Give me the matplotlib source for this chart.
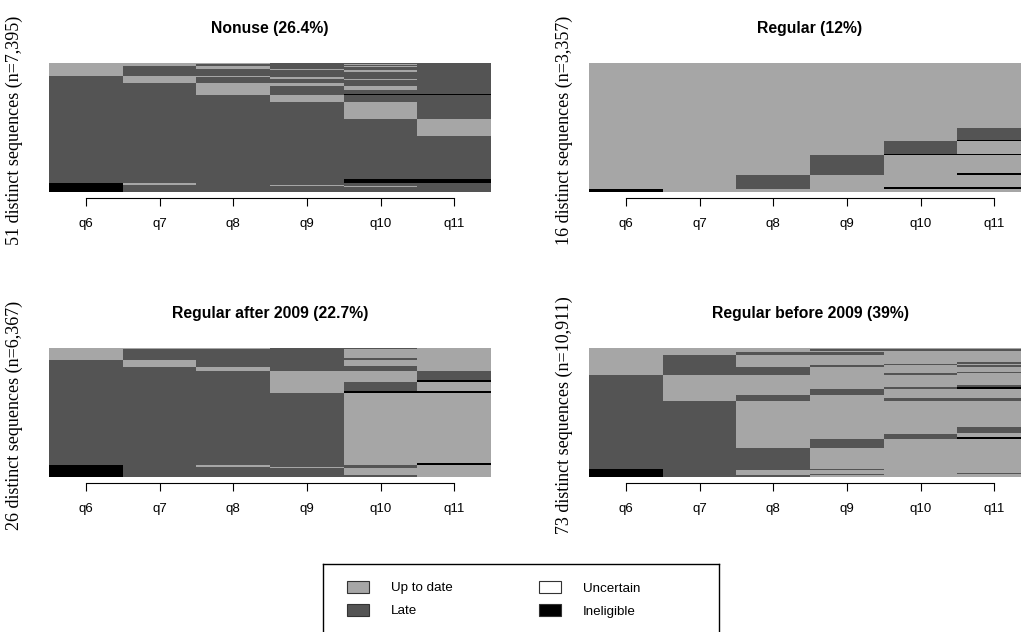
import matplotlib
matplotlib.use("Agg")
import matplotlib.pyplot as plt
from matplotlib.patches import Rectangle

plt.rcParams['font.family'] = ['Liberation Sans', 'DejaVu Sans']

# states
state_codes = ['U', 'L', 'X', 'I']
state_labels = ['Up to date', 'Late', 'Uncertain', 'Ineligible']
state_colors = {'U': '#a6a6a6', 'L': '#545454', 'X': '#ffffff', 'I': '#000000'}

periods = ['q6', 'q7', 'q8', 'q9', 'q10', 'q11']

# sequences listed top to bottom, weights = relative row heights
nonuse_seqs = ['UUULLL', 'UULLUL', 'UULLLL', 'ULULUL', 'ULULLL', 'ULLULL', 'ULLLUL',
               'ULLLLL', 'LUULLL', 'LULULL', 'LULLUL', 'LULLLL', 'LLUULL', 'LLULUL',
               'LLULLL', 'LLULII', 'LLLULL', 'LLLLUL', 'LLLLLU', 'LLLLLL', 'LLLLII',
               'IULLLL', 'ILLULL', 'ILLLUL', 'ILLLLL']
nonuse_w = [3, 2, 5, 3, 4, 3, 7, 12, 4, 4, 5, 7, 11, 11, 11, 4, 19, 52, 50, 129, 13,
            4, 3, 4, 15]

regular_seqs = ['UUUUUU', 'UUUUUL', 'UUUUUI', 'UUUULU', 'UUUUII', 'UUULUU', 'UUULUI',
                'UULUUU', 'UULUII', 'IUUUUU']
regular_w = [193, 36, 4, 38, 4, 54, 6, 36, 4, 10]

after_seqs = ['UUULLU', 'ULLLUU', 'ULLLLU', 'LULLUU', 'LULLLU', 'LLULLU', 'LLLUUL',
              'LLLUUI', 'LLLULU', 'LLLUII', 'LLLLUU', 'LLLLUI', 'ILULLU', 'ILLULU',
              'ILLLUU', 'ILLLLU']
after_w = [3, 27, 7, 16, 5, 10, 27, 7, 26, 7, 208, 7, 4, 4, 22, 5]

before_seqs = ['UUUUUU', 'UUULLL', 'UUUUUU', 'UULLUU', 'ULUUUU', 'ULUUUL', 'ULUULU',
               'ULULUL', 'ULLUUU', 'ULLUUL', 'ULLULU', 'LUUUUU', 'LUUUUL', 'LUUULI',
               'LUULUU', 'LULUUU', 'LULULL', 'LLUUUU', 'LLUUUL', 'LLUUUU', 'LLUULU',
               'LLUULI', 'LLULUU', 'LLLUUU', 'ILLLUU', 'ILUUUU', 'ILUUUL', 'ILULUU',
               'ILLUUU']
before_w = [4, 5, 4, 8, 22, 4, 4, 6, 14, 4, 5, 30, 5, 8, 17, 10, 8, 79, 16, 4, 10, 5,
            25, 63, 4, 9, 4, 3, 5]

titles = ['Nonuse (26.4%)', 'Regular (12%)', 'Regular after 2009 (22.7%)',
          'Regular before 2009 (39%)']
ylabels = ['51 distinct sequences (n=7,395)', '16 distinct sequences (n=3,357)',
           '26 distinct sequences (n=6,367)', '73 distinct sequences (n=10,911)']

W, H = 1021, 632
fig = plt.figure(figsize=(W / 100, H / 100), dpi=100)

panels = [(nonuse_seqs, nonuse_w), (regular_seqs, regular_w),
          (after_seqs, after_w), (before_seqs, before_w)]
# pixel boxes: left, top
boxes = [(49, 63), (589, 63), (49, 348), (589, 348)]
lab_off = [35, 25, 35, 25]
pw, ph = 442, 129

for k, (seqs, w) in enumerate(panels):
    left, top = boxes[k]
    ax = fig.add_axes([left / W, 1 - (top + ph) / H, pw / W, ph / H])
    total = sum(w)
    cum = 0
    for s, h in zip(seqs, w):
        for j, st in enumerate(s):
            ax.bar(j, h, bottom=cum, width=1.0, color=state_colors[st],
                   edgecolor='none', linewidth=0)
        cum += h
    ax.set_xlim(-0.5, 5.5)
    ax.set_ylim(total, 0)
    for sp in ['top', 'right', 'left']:
        ax.spines[sp].set_visible(False)
    ax.spines['bottom'].set_position(('outward', 4))
    ax.spines['bottom'].set_bounds(0, 5)
    ax.spines['bottom'].set_linewidth(0.8)
    ax.set_yticks([])
    ax.set_xticks(range(6))
    ax.set_xticklabels(periods, fontsize=9.5)
    ax.tick_params(axis='x', length=5.5, width=0.8, pad=9)
    ax.text(0.5, 1 + 35 / ph, titles[k], transform=ax.transAxes, ha='center',
            va='center', fontsize=11.3, fontweight='bold')
    ax.text(-lab_off[k] / pw, 0.48, ylabels[k], transform=ax.transAxes, rotation=90,
            ha='center', va='center', fontsize=13, family=['Liberation Serif'])

# legend box
lax = fig.add_axes([323 / W, -10 / H, 396 / W, 78 / H])
lax.set_xlim(0, 396)
lax.set_ylim(78, 0)
lax.set_xticks([])
lax.set_yticks([])
for sp in lax.spines.values():
    sp.set_linewidth(1.0)
pos = [(24, 23), (24, 46), (216, 23), (216, 46)]
for code, lab, (x, y) in zip(state_codes, state_labels, pos):
    lax.add_patch(Rectangle((x, y - 6), 22, 12, facecolor=state_colors[code],
                            edgecolor='#333333', linewidth=0.8))
    lax.text(x + 44, y + 1.5, lab, va='center', ha='left', fontsize=9.6)

fig.savefig('out.png', dpi=100)
